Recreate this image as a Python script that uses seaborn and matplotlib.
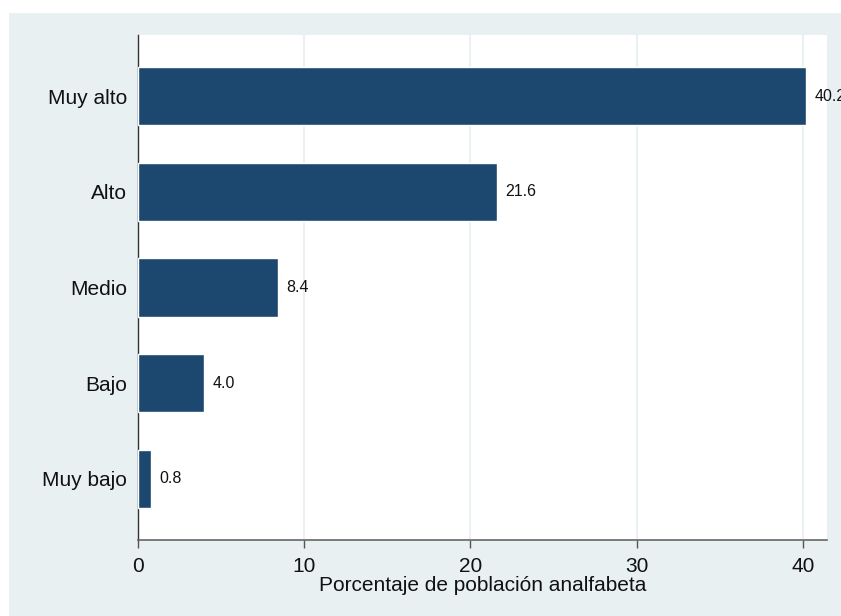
import pandas as pd
import matplotlib
matplotlib.use("Agg")
import matplotlib.pyplot as plt
import seaborn as sns
from matplotlib.patches import Rectangle

# Data
categorias = ["Muy alto", "Alto", "Medio", "Bajo", "Muy bajo"]
porcentajes = [40.2, 21.6, 8.4, 4.0, 0.8]
xticks = [0, 10, 20, 30, 40]

df = pd.DataFrame({"categoria": categorias, "porcentaje": porcentajes})

sns.set_style("white")
plt.rcParams["font.family"] = ["Liberation Sans", "DejaVu Sans"]

W, H = 841, 616
fig = plt.figure(figsize=(W / 100, H / 100), dpi=100, facecolor="white")

# Stata-like light bluish background (image is cropped at top/left)
fig.patches.append(Rectangle((9 / W, 0), (W - 9) / W, (H - 13) / H,
                             transform=fig.transFigure, facecolor="#e8f0f2",
                             edgecolor="none", zorder=-5))

ax = fig.add_axes([138 / W, (H - 540) / H, (827 - 138) / W, (540 - 35) / H])
ax.set_zorder(2)
ax.set_facecolor("white")

sns.barplot(data=df, x="porcentaje", y="categoria", orient="h",
            color="#1c476e", width=0.607, saturation=1, ax=ax, zorder=3)

# Value labels next to each bar
for i, v in enumerate(porcentajes):
    ax.annotate(f"{v:.1f}", xy=(v, i), xytext=(6, 0), textcoords="offset points",
                va="center", ha="left", fontsize=11.5, color="#111111",
                annotation_clip=False, clip_on=False)

ax.set_xlim(0, 41.45)
ax.set_ylim(4.64, -0.64)
ax.set_xticks(xticks)
ax.set_xticklabels([str(t) for t in xticks])

# vertical grid lines (very faint, as in the Stata theme)
for t in xticks[1:]:
    ax.axvline(t, color="#eaf1f3", linewidth=1.5, zorder=1)

for s in ["top", "right"]:
    ax.spines[s].set_visible(False)
ax.spines["left"].set_color("#333333")
ax.spines["left"].set_linewidth(1.0)
ax.spines["bottom"].set_color("#666666")
ax.spines["bottom"].set_linewidth(1.2)

ax.tick_params(axis="x", length=6, width=1, color="#555555", pad=6,
               labelsize=15, labelcolor="#111111", bottom=True)
ax.tick_params(axis="y", length=0, pad=8, labelsize=15, labelcolor="#111111")

ax.set_ylabel("")
ax.set_xlabel("Porcentaje de población analfabeta", fontsize=15,
              color="#111111", labelpad=0)

plt.savefig("out.png", dpi=100, facecolor=fig.get_facecolor())
